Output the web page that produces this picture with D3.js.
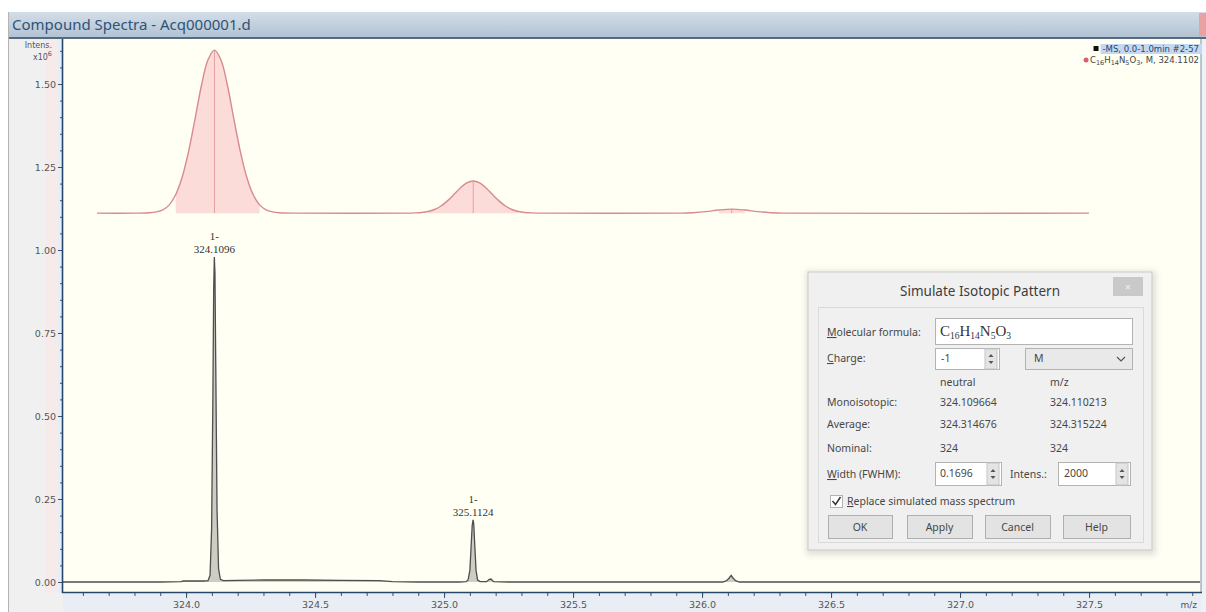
<!DOCTYPE html>
<html><head><meta charset="utf-8">
<script src="https://cdn.jsdelivr.net/npm/d3@7"></script>
<style>body{margin:0;background:#fff;} svg{display:block}</style>
</head><body><svg id="c" width="1206" height="612"></svg>
<script>
// ---------- data ----------
const titleText = "Compound Spectra - Acq000001.d";
const xTickValues = [324.0, 324.5, 325.0, 325.5, 326.0, 326.5, 327.0, 327.5];
const yTickValues = [0.00, 0.25, 0.50, 0.75, 1.00, 1.25, 1.50];
const xDomain = [323.523, 327.930];
const yDomain = [0, 1.5];

// measured spectrum (-MS), intensity x10^6
const specMz = [323.52, 323.90, 323.98, 323.99, 324.07, 324.085, 324.093, 324.099, 324.104, 324.107, 324.1096,
  324.112, 324.115, 324.120, 324.126, 324.133, 324.145, 324.20, 324.30, 324.45, 324.60, 324.75, 324.80, 324.90,
  325.06, 325.085, 325.093, 325.100, 325.105, 325.109, 325.1124, 325.115, 325.119, 325.124, 325.130, 325.140,
  325.165, 325.175, 325.182, 325.192, 325.25, 326.08, 326.095, 326.105, 326.113, 326.12, 326.13, 326.145, 327.93];
const specInt = [0, 0, 0.001, 0.003, 0.003, 0.004, 0.02, 0.16, 0.56, 0.88, 0.979,
  0.93, 0.66, 0.22, 0.04, 0.008, 0.004, 0.005, 0.006, 0.006, 0.005, 0.004, 0.001, 0,
  0, 0.001, 0.006, 0.035, 0.11, 0.17, 0.187, 0.175, 0.11, 0.035, 0.006, 0.001,
  0.001, 0.008, 0.009, 0.001, 0, 0, 0.004, 0.012, 0.02, 0.012, 0.004, 0, 0];

// simulated isotopic pattern (stacked trace), intensity x10^6
const simMz = [323.655, 323.80, 323.860, 323.885, 323.910, 323.935, 323.960, 323.985, 324.010, 324.035, 324.060, 324.085,
  324.110, 324.135, 324.160, 324.185, 324.210, 324.235, 324.260, 324.285, 324.310, 324.335, 324.360, 324.45,
  324.86, 324.888, 324.913, 324.938, 324.963, 324.988, 325.013, 325.038, 325.063, 325.088, 325.113, 325.138,
  325.163, 325.188, 325.213, 325.238, 325.263, 325.288, 325.313, 325.338, 325.42,
  325.90, 325.915, 325.965, 326.015, 326.065, 326.115, 326.165, 326.215, 326.265, 326.315, 327.50];
const simInt = [1.111, 1.111, 1.112, 1.115, 1.121, 1.136, 1.167, 1.220, 1.298, 1.396, 1.497, 1.573,
  1.602, 1.573, 1.497, 1.396, 1.298, 1.220, 1.167, 1.136, 1.121, 1.115, 1.112, 1.111,
  1.111, 1.1117, 1.113, 1.116, 1.122, 1.1325, 1.148, 1.167, 1.187, 1.202, 1.208, 1.202,
  1.187, 1.167, 1.148, 1.1325, 1.122, 1.116, 1.113, 1.1117, 1.111,
  1.111, 1.111, 1.1124, 1.1156, 1.1204, 1.123, 1.1204, 1.1156, 1.1124, 1.111, 1.111];
const simBaseline = 1.111;
const simStickMz = [324.110, 325.113, 326.115];
const simStickInt = [1.602, 1.208, 1.123];
const simFillRanges = [[323.94, 324.29], [324.93, 325.29], [326.04, 326.19]];

// peak annotations
const peakLabelMz = [324.1096, 325.1124];
const peakLabelInt = [0.979, 0.187];
const peakLabelText = ["324.1096", "325.1124"];
const peakLabelCharge = ["1-", "1-"];

// legend
const legendLine1 = "-MS, 0.0-1.0min #2-57";
const legendFormula = [["C", "16"], ["H", "14"], ["N", "5"], ["O", "3"]];
const legendLine2Tail = ", M, 324.1102";

// dialog
const dlgTitle = "Simulate Isotopic Pattern";
const dlgFormula = [["C", "16"], ["H", "14"], ["N", "5"], ["O", "3"]];
const dlgRowLabels = ["Monoisotopic:", "Average:", "Nominal:"];
const dlgNeutral = ["324.109664", "324.314676", "324"];
const dlgMz = ["324.110213", "324.315224", "324"];
const dlgButtons = ["OK", "Apply", "Cancel", "Help"];

// ---------- drawing ----------
const svg = d3.select("#c");
const x = d3.scaleLinear().domain(xDomain).range([63, 1200]);
const y = d3.scaleLinear().domain(yDomain).range([582, 84]);
const UI = "'Noto Sans', 'Open Sans', sans-serif";
const TK = "'DejaVu Sans', sans-serif";

const defs = svg.append("defs");
const g1 = defs.append("linearGradient").attr("id", "tb").attr("x1", 0).attr("y1", 0).attr("x2", 0).attr("y2", 1);
g1.append("stop").attr("offset", 0).attr("stop-color", "#d3dde8");
g1.append("stop").attr("offset", 1).attr("stop-color", "#b3c3d3");
defs.append("clipPath").attr("id", "plotclip").append("rect").attr("x", 63).attr("y", 39).attr("width", 1138).attr("height", 553);
defs.append("filter").attr("id", "shadow").attr("x", -0.1).attr("y", -0.1).attr("width", 1.2).attr("height", 1.2)
  .append("feGaussianBlur").attr("stdDeviation", 3);

// helper: chemical formula with subscripts
function formula(textSel, parts, subSize, shift) {
  parts.forEach(([el, n], i) => {
    const e = textSel.append("tspan").text(el);
    if (i > 0) e.attr("dy", -shift);
    textSel.append("tspan").attr("dy", shift).attr("font-size", subSize).text(n);
  });
}

// window frame
svg.append("rect").attr("x", 8).attr("y", 12).attr("width", 1198).attr("height", 25).attr("fill", "url(#tb)");
svg.append("text").attr("x", 12).attr("y", 30).attr("font-family", UI).attr("font-size", 15)
  .attr("fill", "#2d5479").text(titleText);
svg.append("rect").attr("x", 1199).attr("y", 13).attr("width", 7).attr("height", 23).attr("fill", "#e9a2a2");
svg.append("rect").attr("x", 8).attr("y", 37).attr("width", 1198).attr("height", 2).attr("fill", "#55697f");

// left panel & bottom band
svg.append("rect").attr("x", 8).attr("y", 39).attr("width", 55).attr("height", 573).attr("fill", "#f0f0f0");
svg.append("rect").attr("x", 45).attr("y", 39).attr("width", 13).attr("height", 554).attr("fill", "#f6ebea");
svg.append("rect").attr("x", 58).attr("y", 39).attr("width", 5).attr("height", 554).attr("fill", "#e6eef8");
svg.append("line").attr("x1", 8.5).attr("x2", 8.5).attr("y1", 12).attr("y2", 612).attr("stroke", "#b4b4b4");
svg.append("rect").attr("x", 63).attr("y", 593).attr("width", 1143).attr("height", 19).attr("fill", "#e9eef5");
svg.append("rect").attr("x", 1201).attr("y", 39).attr("width", 5).attr("height", 573).attr("fill", "#eef1f5");

// plot background
svg.append("rect").attr("x", 63).attr("y", 39).attr("width", 1138).attr("height", 554).attr("fill", "#fffff4");
svg.append("line").attr("x1", 1201).attr("x2", 1201).attr("y1", 39).attr("y2", 593).attr("stroke", "#7f91a5");

const plot = svg.append("g").attr("clip-path", "url(#plotclip)");

// simulated trace
const simPts = simMz.map((m, i) => [m, simInt[i]]);
simFillRanges.forEach(([a, b]) => {
  const pts = simPts.filter(p => p[0] >= a && p[0] <= b);
  plot.append("path").datum(pts)
    .attr("d", d3.area().x(d => x(d[0])).y0(y(simBaseline)).y1(d => y(d[1])).curve(d3.curveCatmullRom))
    .attr("fill", "#fbdcd8");
});
simStickMz.forEach((m, i) => {
  plot.append("line").attr("x1", x(m)).attr("x2", x(m)).attr("y1", y(simBaseline)).attr("y2", y(simStickInt[i]))
    .attr("stroke", "#e6a0a0").attr("stroke-width", 1);
});
plot.append("path").datum(simPts)
  .attr("d", d3.line().x(d => x(d[0])).y(d => y(d[1])).curve(d3.curveCatmullRom))
  .attr("fill", "none").attr("stroke", "#d98a8c").attr("stroke-width", 1.4);

// measured spectrum
const specPts = specMz.map((m, i) => [m, specInt[i]]);
plot.append("path").datum(specPts)
  .attr("d", d3.area().x(d => x(d[0])).y0(y(0)).y1(d => y(d[1])))
  .attr("fill", "#cdcdc3");
plot.append("path").datum(specPts)
  .attr("d", d3.line().x(d => x(d[0])).y(d => y(d[1])))
  .attr("fill", "none").attr("stroke", "#4e4e4e").attr("stroke-width", 1.3);

// peak labels
peakLabelMz.forEach((m, i) => {
  const t = svg.append("text").attr("text-anchor", "middle").attr("font-family", "'Liberation Serif', serif")
    .attr("font-size", 11).attr("fill", "#333");
  t.append("tspan").attr("x", x(m)).attr("y", y(peakLabelInt[i]) - 17).text(peakLabelCharge[i]);
  t.append("tspan").attr("x", x(m)).attr("y", y(peakLabelInt[i]) - 4).text(peakLabelText[i]);
});

// y axis
const yMinor = d3.range(0, 1.64, 0.05);
svg.append("g").attr("transform", "translate(63,0)")
  .call(d3.axisLeft(y).tickValues(yMinor).tickSize(3).tickFormat(""))
  .call(g => { g.select(".domain").remove(); g.selectAll("line").attr("stroke", "#3a4f6a"); });
const ya = svg.append("g").attr("transform", "translate(63,0)")
  .call(d3.axisLeft(y).tickValues(yTickValues).tickSize(5).tickPadding(2).tickFormat(d3.format(".2f")));
ya.select(".domain").remove();
ya.selectAll("line").attr("stroke", "#3a4f6a");
ya.selectAll("text").attr("font-family", TK).attr("font-size", 9.5).attr("fill", "#555");
svg.append("line").attr("x1", 62.5).attr("x2", 62.5).attr("y1", 39).attr("y2", 593).attr("stroke", "#27466b").attr("stroke-width", 1.6);

// axis title
svg.append("text").attr("x", 52).attr("y", 48).attr("text-anchor", "end").attr("font-family", TK)
  .attr("font-size", 8).attr("fill", "#555").text("Intens.");
const xt = svg.append("text").attr("x", 52).attr("y", 60).attr("text-anchor", "end").attr("font-family", TK)
  .attr("font-size", 8).attr("fill", "#555");
xt.append("tspan").text("x10");
xt.append("tspan").attr("dy", -4).attr("font-size", 6.5).text("6");

// x axis
const xMinor = d3.range(323.6, 327.95, 0.1);
svg.append("g").attr("transform", "translate(0,593)")
  .call(d3.axisBottom(x).tickValues(xMinor).tickSize(3).tickFormat(""))
  .call(g => { g.select(".domain").remove(); g.selectAll("line").attr("stroke", "#3a4f6a"); });
const xa = svg.append("g").attr("transform", "translate(0,593)")
  .call(d3.axisBottom(x).tickValues(xTickValues).tickSize(5).tickPadding(3).tickFormat(d3.format(".1f")));
xa.select(".domain").remove();
xa.selectAll("line").attr("stroke", "#3a4f6a");
xa.selectAll("text").attr("font-family", TK).attr("font-size", 9.5).attr("fill", "#555");
svg.append("line").attr("x1", 62).attr("x2", 1202).attr("y1", 592.5).attr("y2", 592.5).attr("stroke", "#27466b").attr("stroke-width", 1.6);
svg.append("text").attr("x", 1197).attr("y", 608).attr("text-anchor", "end").attr("font-family", TK)
  .attr("font-size", 9).attr("fill", "#555").text("m/z");

// legend
const lg1 = svg.append("text").attr("x", 1199).attr("y", 52).attr("text-anchor", "end").attr("font-family", TK)
  .attr("font-size", 8.5).attr("fill", "#27456a").text(legendLine1);
const b1 = lg1.node().getBBox();
svg.insert("rect", () => lg1.node()).attr("x", b1.x - 2).attr("y", b1.y).attr("width", b1.width + 5).attr("height", b1.height)
  .attr("fill", "#c4d9f1");
svg.append("rect").attr("x", b1.x - 9).attr("y", 46).attr("width", 5).attr("height", 5).attr("fill", "#111");
const lg2 = svg.append("text").attr("x", 1199).attr("y", 63).attr("text-anchor", "end").attr("font-family", TK)
  .attr("font-size", 8.5).attr("fill", "#444");
formula(lg2, legendFormula, 6.5, 2);
lg2.append("tspan").attr("dy", -2).text(legendLine2Tail);
const b2 = lg2.node().getBBox();
svg.append("circle").attr("cx", b2.x - 4).attr("cy", 60).attr("r", 2.5).attr("fill", "#d9606e");

// ---------- dialog ----------
const dg = svg.append("g");
dg.append("rect").attr("x", 806).attr("y", 271).attr("width", 350).attr("height", 284).attr("fill", "#bbb")
  .attr("opacity", 0.45).attr("filter", "url(#shadow)");
dg.append("rect").attr("x", 808).attr("y", 272).attr("width", 344).attr("height", 278).attr("fill", "#f0f0f0")
  .attr("stroke", "#c9c9c9");
dg.append("text").attr("x", 980).attr("y", 296).attr("text-anchor", "middle").attr("font-family", UI)
  .attr("font-size", 13.5).attr("fill", "#3d3d3d").text(dlgTitle);
dg.append("rect").attr("x", 1113).attr("y", 277).attr("width", 30).attr("height", 19).attr("fill", "#c9c9c9");
dg.append("text").attr("x", 1128).attr("y", 291).attr("text-anchor", "middle").attr("font-family", UI)
  .attr("font-size", 11).attr("fill", "#eee").text("×");
dg.append("rect").attr("x", 818.5).attr("y", 307.5).attr("width", 325).attr("height", 235).attr("fill", "#f0f0f0")
  .attr("stroke", "#dadada");

function uiText(xp, yp, str, opts = {}) {
  const t = dg.append("text").attr("x", xp).attr("y", yp).attr("font-family", UI).attr("font-size", opts.size || 10.5)
    .attr("fill", opts.fill || "#474747").attr("text-anchor", opts.anchor || "start");
  if (opts.ul !== undefined) {
    t.append("tspan").attr("text-decoration", "underline").text(str.slice(0, 1));
    t.append("tspan").text(str.slice(1));
  } else t.text(str);
  return t;
}
function box(xp, yp, w, h, fill) {
  dg.append("rect").attr("x", xp + 0.5).attr("y", yp + 0.5).attr("width", w).attr("height", h)
    .attr("fill", fill || "#fff").attr("stroke", "#b3b3b3");
}
function spinner(xp, yp, h) {
  dg.append("rect").attr("x", xp).attr("y", yp).attr("width", 12).attr("height", h).attr("fill", "#e4e4e4").attr("stroke", "#c4c4c4");
  const cx = xp + 6, my = yp + h / 2;
  dg.append("path").attr("d", `M${cx - 2.5},${my - 2} L${cx + 2.5},${my - 2} L${cx},${my - 5} Z`).attr("fill", "#555");
  dg.append("path").attr("d", `M${cx - 2.5},${my + 2} L${cx + 2.5},${my + 2} L${cx},${my + 5} Z`).attr("fill", "#555");
}

uiText(827, 336, "Molecular formula:", { ul: 0 });
box(935, 318, 197, 26);
const ft = dg.append("text").attr("x", 940).attr("y", 336).attr("font-family", "'Liberation Serif', serif")
  .attr("font-size", 15).attr("fill", "#333");
formula(ft, dlgFormula, 9.5, 3);

uiText(827, 362, "Charge:", { ul: 0 });
box(935, 348, 64, 21);
uiText(941, 362, "-1");
spinner(985, 349, 20);
box(1025, 348, 107, 21, "#e9e9e9");
uiText(1034, 362, "M");
dg.append("path").attr("d", "M1117,357 L1121,361 L1125,357").attr("fill", "none").attr("stroke", "#555").attr("stroke-width", 1.2);

uiText(940, 386, "neutral");
uiText(1050, 386, "m/z");
dlgRowLabels.forEach((lab, i) => {
  const yy = [406, 428, 452][i];
  uiText(827, yy, lab);
  uiText(940, yy, dlgNeutral[i]);
  uiText(1050, yy, dlgMz[i]);
});

uiText(827, 478, "Width (FWHM):", { ul: 0 });
box(935, 462, 66, 23);
uiText(940, 477, "0.1696");
spinner(987, 463, 22);
uiText(1010, 478, "Intens.:");
box(1058, 462, 72, 23);
uiText(1064, 477, "2000");
spinner(1116, 463, 22);

box(830, 495, 12, 12);
dg.append("path").attr("d", "M832.5,501 L835.5,504.5 L840.5,497").attr("fill", "none").attr("stroke", "#333").attr("stroke-width", 1.5);
uiText(847, 505, "Replace simulated mass spectrum", { ul: 0 });

const btnX = [828, 907, 985, 1063], btnW = [64, 65, 65, 67];
dlgButtons.forEach((b, i) => {
  dg.append("rect").attr("x", btnX[i] + 0.5).attr("y", 515.5).attr("width", btnW[i]).attr("height", 23)
    .attr("fill", "#e3e3e3").attr("stroke", "#afafaf");
  uiText(btnX[i] + btnW[i] / 2, 531, b, { anchor: "middle" });
});
</script></body></html>
